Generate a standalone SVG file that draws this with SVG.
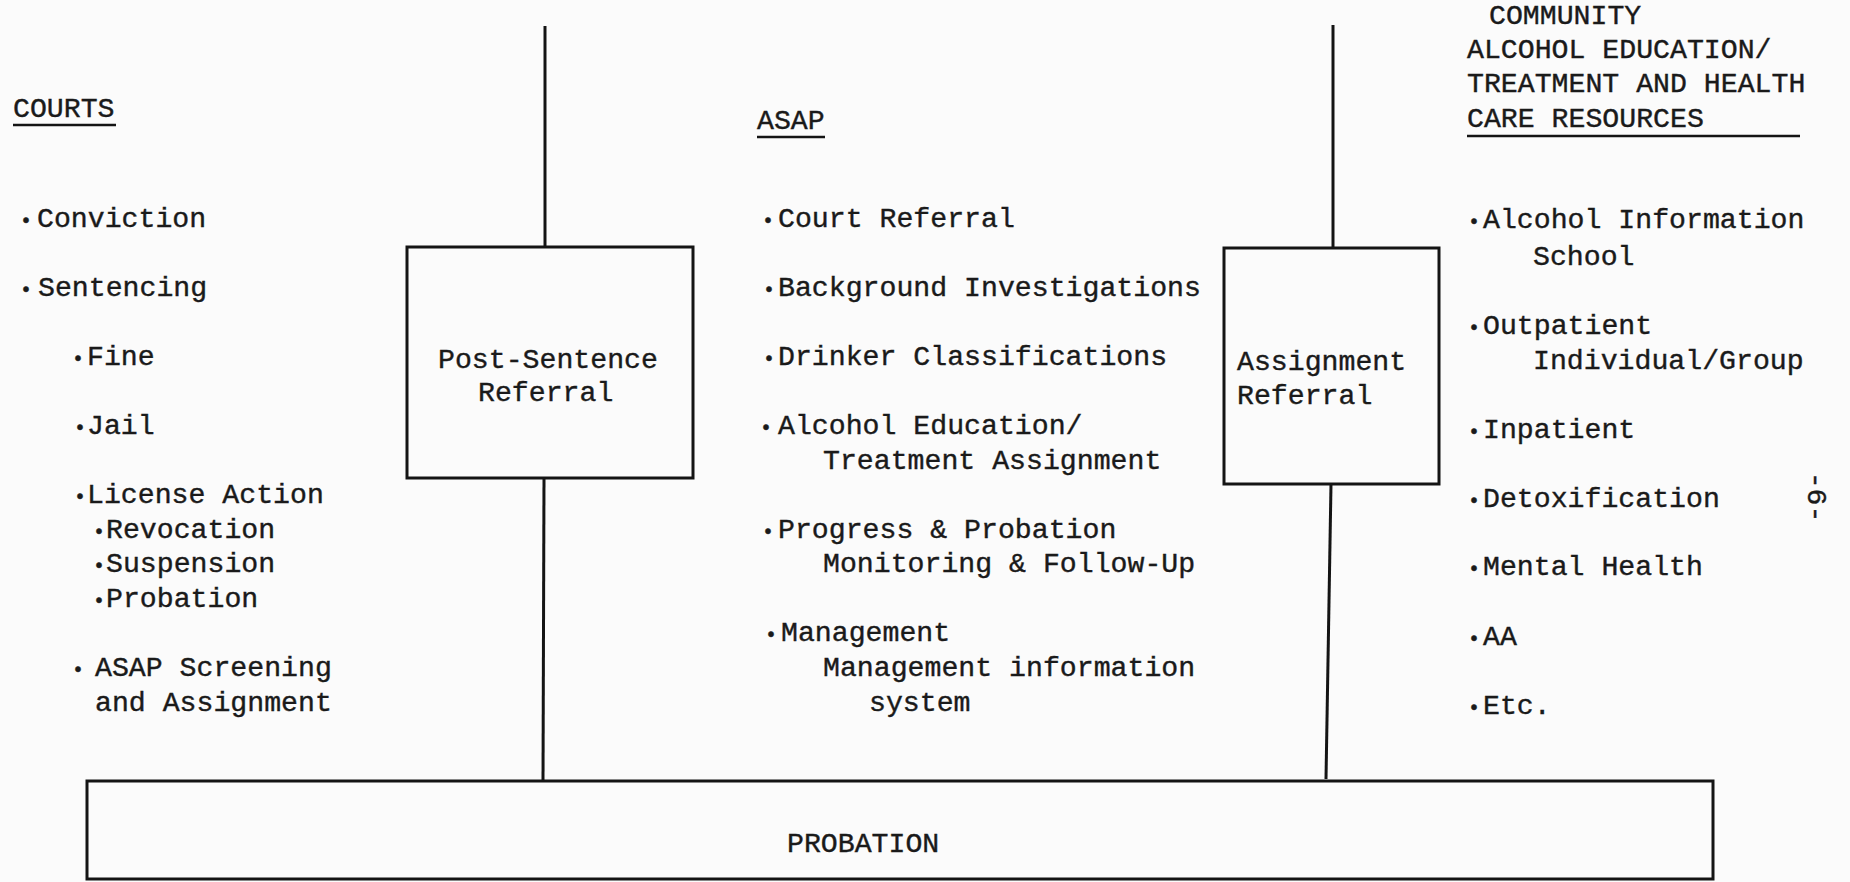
<svg xmlns="http://www.w3.org/2000/svg" width="1850" height="882" viewBox="0 0 1850 882">
<style>
.t{font-family:"Liberation Mono","Courier New",monospace;font-size:28.2px;fill:#1a1a1a;stroke:#1a1a1a;stroke-width:0.4}
.b{font-size:20px}
.ln{stroke:#141414;stroke-width:3;fill:none}
.box{stroke:#141414;stroke-width:3;fill:none}
.ul{stroke:#141414;stroke-width:2.5}
</style>
<rect width="1850" height="882" fill="#fbfbfb"/>
<g id="connectors">
<line class="ln" x1="545" y1="26" x2="545" y2="247"/>
<line class="ln" x1="544" y1="478" x2="543" y2="781"/>
<line class="ln" x1="1333" y1="25" x2="1333" y2="248"/>
<line class="ln" x1="1331" y1="484" x2="1326" y2="779"/>
</g>
<g id="courts">
<text class="t" x="13" y="117">COURTS</text>
<line class="ul" x1="13" y1="125" x2="116" y2="125"/>
<text class="t" y="227"><tspan class="b" x="20">•</tspan><tspan x="37">Conviction</tspan></text>
<text class="t" y="296"><tspan class="b" x="20">•</tspan><tspan x="38">Sentencing</tspan></text>
<text class="t" y="365"><tspan class="b" x="72">•</tspan><tspan x="87">Fine</tspan></text>
<text class="t" y="434"><tspan class="b" x="74">•</tspan><tspan x="87">Jail</tspan></text>
<text class="t" y="503"><tspan class="b" x="74">•</tspan><tspan x="87">License Action</tspan></text>
<text class="t" y="538"><tspan class="b" x="93">•</tspan><tspan x="106">Revocation</tspan></text>
<text class="t" y="572"><tspan class="b" x="93">•</tspan><tspan x="106">Suspension</tspan></text>
<text class="t" y="607"><tspan class="b" x="93">•</tspan><tspan x="106">Probation</tspan></text>
<text class="t" y="676"><tspan class="b" x="72">•</tspan><tspan x="95">ASAP Screening</tspan></text>
<text class="t" x="95" y="711">and Assignment</text>
</g>
<g id="post-sentence-referral">
<rect class="box" x="407" y="247" width="286" height="231"/>
<text class="t" x="438" y="368">Post-Sentence</text>
<text class="t" x="478" y="401">Referral</text>
</g>
<g id="asap">
<text class="t" x="757" y="129">ASAP</text>
<line class="ul" x1="757" y1="137" x2="825" y2="137"/>
<text class="t" y="227"><tspan class="b" x="762">•</tspan><tspan x="778">Court Referral</tspan></text>
<text class="t" y="296"><tspan class="b" x="763">•</tspan><tspan x="778">Background Investigations</tspan></text>
<text class="t" y="365"><tspan class="b" x="763">•</tspan><tspan x="778">Drinker Classifications</tspan></text>
<text class="t" y="434"><tspan class="b" x="760">•</tspan><tspan x="778">Alcohol Education/</tspan></text>
<text class="t" x="823" y="469">Treatment Assignment</text>
<text class="t" y="538"><tspan class="b" x="762">•</tspan><tspan x="778">Progress &amp; Probation</tspan></text>
<text class="t" x="823" y="572">Monitoring &amp; Follow-Up</text>
<text class="t" y="641"><tspan class="b" x="765">•</tspan><tspan x="781">Management</tspan></text>
<text class="t" x="823" y="676">Management information</text>
<text class="t" x="869" y="711">system</text>
</g>
<g id="assignment-referral">
<rect class="box" x="1224" y="248" width="215" height="236"/>
<text class="t" x="1237" y="370">Assignment</text>
<text class="t" x="1237" y="404">Referral</text>
</g>
<g id="community">
<text class="t" x="1489" y="24">COMMUNITY</text>
<text class="t" x="1467" y="58">ALCOHOL EDUCATION/</text>
<text class="t" x="1467" y="92">TREATMENT AND HEALTH</text>
<text class="t" x="1467" y="127">CARE RESOURCES</text>
<line class="ul" x1="1467" y1="136" x2="1800" y2="136"/>
<text class="t" y="228"><tspan class="b" x="1468">•</tspan><tspan x="1483">Alcohol Information</tspan></text>
<text class="t" x="1533" y="265">School</text>
<text class="t" y="334"><tspan class="b" x="1468">•</tspan><tspan x="1483">Outpatient</tspan></text>
<text class="t" x="1533" y="369">Individual/Group</text>
<text class="t" y="438"><tspan class="b" x="1468">•</tspan><tspan x="1483">Inpatient</tspan></text>
<text class="t" y="507"><tspan class="b" x="1468">•</tspan><tspan x="1483">Detoxification</tspan></text>
<text class="t" y="575"><tspan class="b" x="1468">•</tspan><tspan x="1483">Mental Health</tspan></text>
<text class="t" y="645"><tspan class="b" x="1468">•</tspan><tspan x="1483">AA</tspan></text>
<text class="t" y="714"><tspan class="b" x="1468">•</tspan><tspan x="1483">Etc.</tspan></text>
</g>
<g id="probation">
<rect class="box" x="87" y="781" width="1626" height="98"/>
<text class="t" x="787" y="852">PROBATION</text>
</g>
<text class="t" transform="translate(1808,497) rotate(90)" text-anchor="middle">-6-</text>
</svg>
